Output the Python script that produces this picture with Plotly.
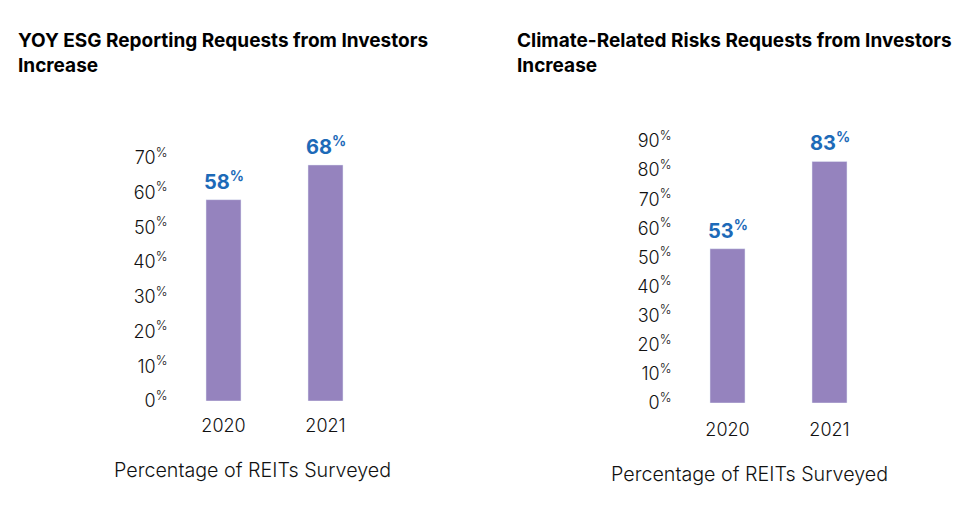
import plotly.graph_objects as go

years = ["2020", "2021"]
esg_values = [58, 68]
climate_values = [53, 83]
esg_ticks = [0, 10, 20, 30, 40, 50, 60, 70]
climate_ticks = [0, 10, 20, 30, 40, 50, 60, 70, 80, 90]
titles = ["YOY ESG Reporting Requests from Investors<br>Increase",
          "Climate-Related Risks Requests from Investors<br>Increase"]
xlabel = "Percentage of REITs Surveyed"

BAR = "#9583BE"
BLUE = "#1D6AB8"
FONT = "Inter"
W, H = 980, 516
OFF = 8  # page body margin


def xp(px):
    return (px - OFF) / W


def yp(py):
    return 1 - (py - OFF) / H


def tt(ticks):
    return [f"{t}<sup>%</sup>" for t in ticks]


fig = go.Figure()
fig.add_trace(go.Bar(x=years, y=esg_values, marker_color=BAR, xaxis="x", yaxis="y",
                     hoverinfo="skip", showlegend=False))
fig.add_trace(go.Bar(x=years, y=climate_values, marker_color=BAR, xaxis="x2", yaxis="y2",
                     hoverinfo="skip", showlegend=False))

axis_font = dict(family=FONT, size=18, color="#111111", weight=300)
common_x = dict(type="category", range=[-0.5, 1.5], showgrid=False, zeroline=False,
                showline=False, ticks="", tickfont=axis_font, automargin=False, fixedrange=True)
common_y = dict(showgrid=False, zeroline=False, showline=False, ticks="", tickfont=axis_font,
                automargin=False, ticklabelstandoff=4, fixedrange=True)

fig.update_layout(
    width=W, height=H, autosize=False, showlegend=False,
    margin=dict(l=0, r=0, t=0, b=0, pad=0, autoexpand=False),
    paper_bgcolor="white", plot_bgcolor="white",
    bargap=0.657,
    xaxis=dict(common_x, domain=[xp(172.5), xp(376.5)], anchor="y", ticklabelstandoff=12),
    yaxis=dict(common_y, domain=[yp(401), yp(158)], anchor="x", range=[0, 70],
               tickvals=esg_ticks, ticktext=tt(esg_ticks)),
    xaxis2=dict(common_x, domain=[xp(676.5), xp(880.5)], anchor="y2", ticklabelstandoff=14),
    yaxis2=dict(common_y, domain=[yp(403), yp(141)], anchor="x2", range=[0, 90],
                tickvals=climate_ticks, ticktext=tt(climate_ticks)),
)

annotations = []
for xr, yr, vals in [("x", "y", esg_values), ("x2", "y2", climate_values)]:
    for i, v in enumerate(vals):
        annotations.append(dict(x=i, y=v, xref=xr, yref=yr, text=f"<b>{v}<sup>%</sup></b>",
                                showarrow=False, yanchor="bottom", xanchor="center", yshift=4,
                                font=dict(family=FONT, size=20, color=BLUE, weight=700)))

for tx, xpos in zip(titles, [18, 517]):
    annotations.append(dict(x=xp(xpos - 2), y=yp(27.5), xref="paper", yref="paper",
                            text=f"<b>{tx}</b>", showarrow=False, xanchor="left", yanchor="top",
                            align="left", font=dict(family=FONT, size=19, color="#000000", weight=700)))

for xc, yc in [(252, 470), (749, 474)]:
    annotations.append(dict(x=xp(xc), y=yp(yc), xref="paper", yref="paper", text=xlabel,
                            showarrow=False, xanchor="center", yanchor="middle",
                            font=dict(family=FONT, size=19.7, color="#111111", weight=300)))

fig.update_layout(annotations=annotations)

fig.write_html("out.html")
